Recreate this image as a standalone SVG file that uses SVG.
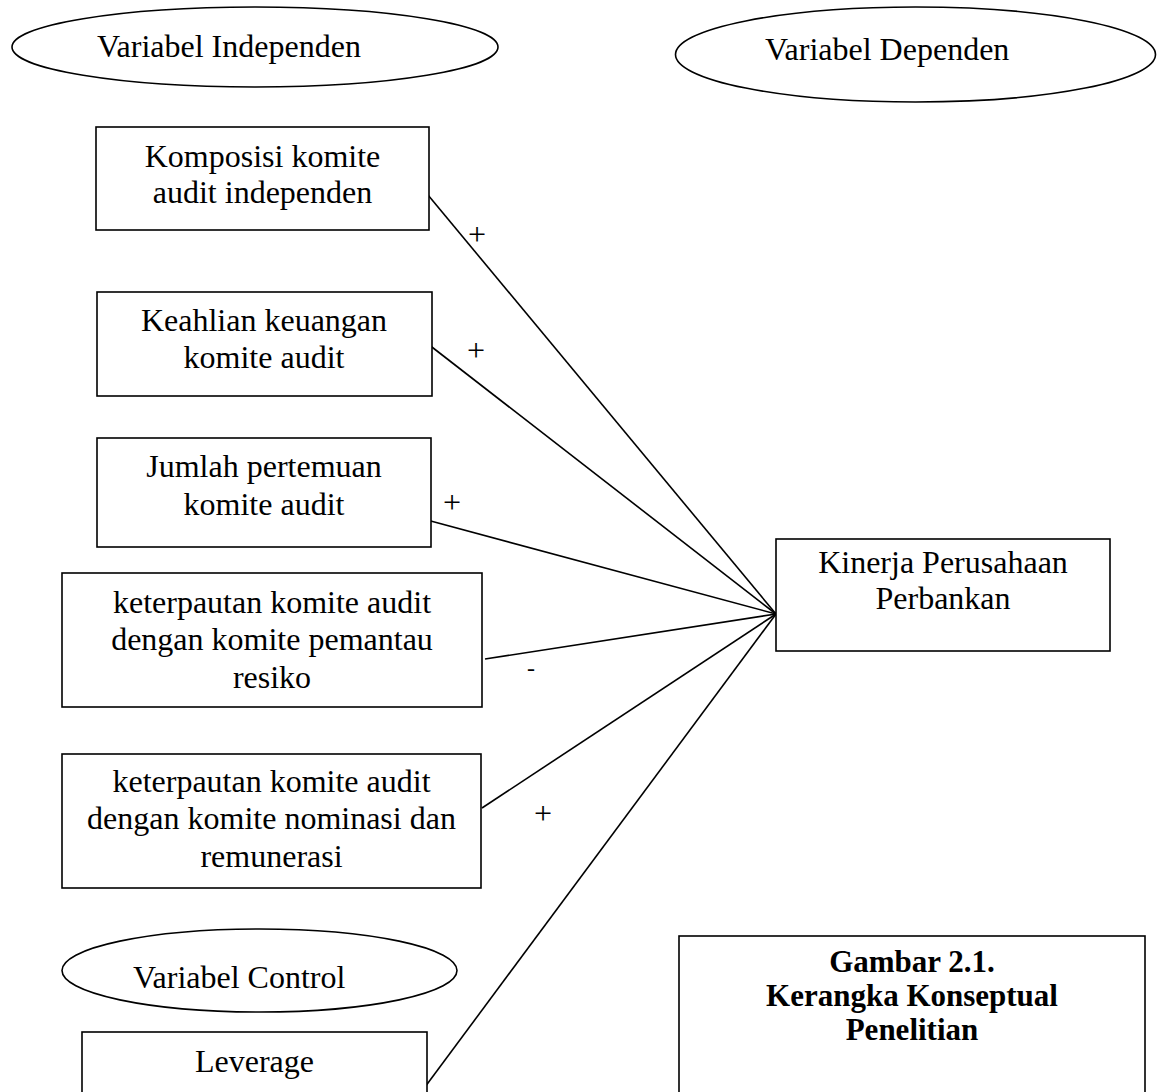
<svg xmlns="http://www.w3.org/2000/svg" width="1157" height="1092" viewBox="0 0 1157 1092">
<style>
.b{fill:#fff;stroke:#000;stroke-width:1.6}
.t{font-family:"Liberation Serif","Times New Roman",serif;font-size:32px;fill:#000}
.c{text-anchor:middle}
.bd{font-weight:bold;font-size:31px}
.ln{stroke:#000;stroke-width:1.6;fill:none}
</style>
<rect width="1157" height="1092" fill="#fff"/>
<g id="ell-independen">
<ellipse class="b" cx="255" cy="47" rx="243" ry="40"/>
<text class="t" x="97" y="57">Variabel Independen</text>
</g>
<g id="ell-dependen">
<ellipse class="b" cx="915.5" cy="54.5" rx="240" ry="47.5"/>
<text class="t" x="765" y="60">Variabel Dependen</text>
</g>
<g id="ell-control">
<ellipse class="b" cx="259.5" cy="970.5" rx="197.5" ry="41.5"/>
<text class="t" x="133" y="988">Variabel Control</text>
</g>
<g id="connectors">
<line class="ln" x1="428" y1="195" x2="776" y2="614"/>
<line class="ln" x1="428" y1="344" x2="776" y2="614"/>
<line class="ln" x1="427" y1="520" x2="776" y2="614"/>
<line class="ln" x1="485" y1="659" x2="776" y2="614"/>
<line class="ln" x1="482" y1="808" x2="776" y2="614"/>
<line class="ln" x1="425" y1="1087" x2="776" y2="614"/>
<text class="t c" x="477" y="245">+</text>
<text class="t c" x="476" y="361">+</text>
<text class="t c" x="452" y="513">+</text>
<text class="t c" x="531" y="676" style="font-size:24px">-</text>
<text class="t c" x="543" y="824">+</text>
</g>
<g id="n1">
<rect class="b" x="96" y="127" width="333" height="103"/>
<text class="t c" x="262.5" y="167">Komposisi komite</text>
<text class="t c" x="262.5" y="203">audit independen</text>
</g>
<g id="n2">
<rect class="b" x="97" y="292" width="335" height="104"/>
<text class="t c" x="264" y="331">Keahlian keuangan</text>
<text class="t c" x="264" y="368">komite audit</text>
</g>
<g id="n3">
<rect class="b" x="97" y="438" width="334" height="109"/>
<text class="t c" x="264" y="477">Jumlah pertemuan</text>
<text class="t c" x="264" y="515">komite audit</text>
</g>
<g id="n4">
<rect class="b" x="62" y="573" width="420" height="134"/>
<text class="t c" x="272" y="613">keterpautan komite audit</text>
<text class="t c" x="272" y="650">dengan komite pemantau</text>
<text class="t c" x="272" y="688">resiko</text>
</g>
<g id="n5">
<rect class="b" x="62" y="754" width="419" height="134"/>
<text class="t c" x="271.5" y="792">keterpautan komite audit</text>
<text class="t c" x="271.5" y="829">dengan komite nominasi dan</text>
<text class="t c" x="271.5" y="867">remunerasi</text>
</g>
<g id="n-leverage">
<rect class="b" x="82" y="1032" width="345" height="80"/>
<text class="t c" x="254.5" y="1072">Leverage</text>
</g>
<g id="n-kinerja">
<rect class="b" x="776" y="539" width="334" height="112"/>
<text class="t c" x="943" y="573">Kinerja Perusahaan</text>
<text class="t c" x="943" y="609">Perbankan</text>
</g>
<g id="caption">
<rect class="b" x="679" y="936" width="466" height="180"/>
<text class="t c bd" x="912" y="972">Gambar 2.1.</text>
<text class="t c bd" x="912" y="1006">Kerangka Konseptual</text>
<text class="t c bd" x="912" y="1040">Penelitian</text>
</g>
</svg>
